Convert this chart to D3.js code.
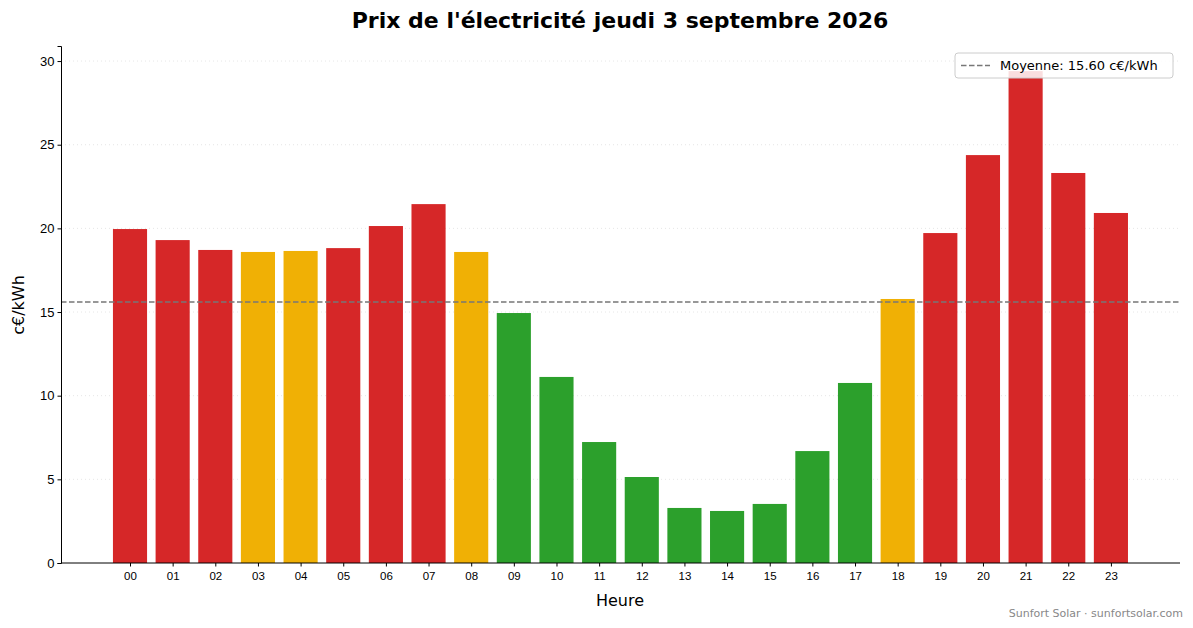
<!DOCTYPE html>
<html><head><meta charset="utf-8">
<script src="https://cdn.jsdelivr.net/npm/d3@7"></script>
<style>body{margin:0;background:#fff;font-family:"DejaVu Sans",sans-serif}</style>
</head><body>
<script>
// data
var hours = ["00","01","02","03","04","05","06","07","08","09","10","11","12","13","14","15","16","17","18","19","20","21","22","23"];
var prices = [19.96,19.30,18.71,18.59,18.65,18.82,20.14,21.45,18.59,14.94,11.12,7.23,5.14,3.29,3.11,3.53,6.69,10.76,15.78,19.72,24.38,29.4,23.31,20.92];
var levels = ["h","h","h","m","m","h","h","h","m","l","l","l","l","l","l","l","l","l","m","h","h","h","h","h"];
var yTicks = [0,5,10,15,20,25,30];
var mean = 15.60;

var colors = {h: "#d62728", m: "#f0b005", l: "#2ca02c"};
var W = 1193, H = 628;
var margin = {top: 46, right: 13, bottom: 65, left: 61};

var svg = d3.select("body").append("svg").attr("width", W).attr("height", H);

var x = d3.scaleLinear().domain([-1.618, 24.62]).range([margin.left, W - margin.right]);
var y = d3.scaleLinear().domain([0, 30.9]).range([H - margin.bottom, margin.top]);

// grid
svg.selectAll(".grid").data(yTicks.slice(1)).enter().append("line")
    .attr("x1", margin.left).attr("x2", W - margin.right)
    .attr("y1", d => y(d)).attr("y2", d => y(d))
    .attr("stroke", "#e0e0e0").attr("stroke-dasharray", "1,3").attr("stroke-width", 0.8);

// bars
svg.selectAll(".bar").data(prices).enter().append("rect")
    .attr("x", (d, i) => x(i - 0.4))
    .attr("width", x(0.8) - x(0))
    .attr("y", d => y(d))
    .attr("height", d => y(0) - y(d))
    .attr("fill", (d, i) => colors[levels[i]]);

// mean line
svg.append("line")
    .attr("x1", margin.left).attr("x2", W - margin.right)
    .attr("y1", y(mean)).attr("y2", y(mean))
    .attr("stroke", "#777").attr("stroke-width", 1.5).attr("stroke-dasharray", "5.5,2.5");

// axes
var xAxis = svg.append("g").attr("transform", "translate(0," + y(0) + ")")
    .call(d3.axisBottom(x).tickValues(d3.range(24)).tickFormat(i => hours[i]).tickSizeOuter(0).tickSize(3.5));
xAxis.selectAll("text").attr("font-size", 11.5).attr("fill", "#000").attr("dy", "0.9em");
xAxis.select(".domain").remove();
var yAxis = svg.append("g").attr("transform", "translate(" + margin.left + ",0)")
    .call(d3.axisLeft(y).tickValues(yTicks).tickSizeOuter(0).tickSize(3.5));
yAxis.selectAll("text").attr("font-size", 13).attr("fill", "#000");
yAxis.select(".domain").attr("stroke", "#000");
svg.append("line").attr("x1", margin.left).attr("x2", W - margin.right)
    .attr("y1", y(0)).attr("y2", y(0)).attr("stroke", "#000");

// labels
svg.append("text").attr("x", 620).attr("y", 28).attr("text-anchor", "middle")
    .attr("font-size", 22).attr("font-weight", "bold").text("Prix de l'électricité jeudi 3 septembre 2026");
svg.append("text").attr("x", 620).attr("y", 606).attr("text-anchor", "middle")
    .attr("font-size", 16).text("Heure");
svg.append("text").attr("transform", "translate(24,305) rotate(-90)").attr("text-anchor", "middle")
    .attr("font-size", 16).text("c€/kWh");
svg.append("text").attr("x", 1183).attr("y", 617).attr("text-anchor", "end")
    .attr("font-size", 11).attr("fill", "#888").text("Sunfort Solar · sunfortsolar.com");

// legend
var lg = svg.append("g");
lg.append("rect").attr("x", 955).attr("y", 53).attr("width", 218).attr("height", 25).attr("rx", 3)
    .attr("fill", "#fff").attr("fill-opacity", 0.85).attr("stroke", "#ccc");
lg.append("line").attr("x1", 961).attr("x2", 990).attr("y1", 65.5).attr("y2", 65.5)
    .attr("stroke", "#777").attr("stroke-width", 1.5).attr("stroke-dasharray", "5.5,2.5");
lg.append("text").attr("x", 1000).attr("y", 70).attr("font-size", 13).text("Moyenne: 15.60 c€/kWh");
</script>
</body></html>
